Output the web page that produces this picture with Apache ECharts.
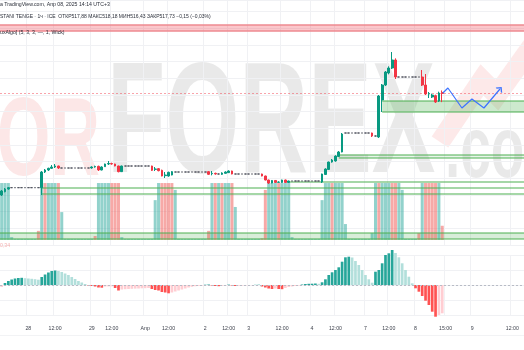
<!DOCTYPE html>
<html>
<head>
<meta charset="utf-8">
<script src="https://cdn.jsdelivr.net/npm/echarts@6/dist/echarts.min.js"></script>
<style>
  html, body { margin: 0; padding: 0; background: #ffffff; }
  #chart { width: 524px; height: 350px; }
</style>
</head>
<body>
<div id="chart"></div>
<script>
// USD/KZT, 1h bars as [open, close, low, high]; a lone number is an hour with no trades (o=c=l=h)
const candles = [
  [502.50,503.10,502.35,503.25],[503.00,503.40,502.90,503.55],[503.40,503.60,503.30,503.70],
  503.60,503.60,503.60,503.60,503.60,503.60,503.60,503.60,503.60,
  [503.60,505.95,502.50,506.10],[505.95,506.25,505.80,506.40],[506.25,506.50,506.10,506.60],
  [506.50,506.70,506.40,507.00],[506.70,506.85,506.55,507.15],[506.85,506.55,506.40,506.90],
  506.55,506.55,506.55,506.55,506.55,506.55,506.55,506.55,506.55,
  [506.55,506.70,506.45,506.80],[506.70,506.78,506.60,506.90],[506.80,506.25,506.10,506.90],
  [506.25,506.70,506.20,506.80],[506.75,507.15,506.70,507.20],[507.15,507.22,507.00,507.60],
  [507.22,507.15,507.05,507.35],[507.15,506.85,506.80,507.20],[506.85,506.00,505.90,506.90],
  [506.00,506.85,505.95,506.90],
  506.85,506.85,506.85,506.85,506.85,506.85,506.85,506.85,
  [506.85,506.20,506.10,506.90],[506.35,506.40,506.10,506.70],[506.45,506.15,506.05,506.55],
  [506.20,505.35,505.30,506.30],[505.40,505.50,505.05,505.95],[505.35,505.90,505.25,506.00],
  [505.50,506.00,505.45,506.10],
  505.95,505.95,505.95,505.95,505.95,505.95,505.95,505.95,505.95,505.95,
  [506.00,505.60,505.50,506.10],[505.70,505.75,505.45,506.10],[505.75,505.65,505.55,505.85],
  [505.65,505.65,505.60,505.70],[505.60,505.80,505.50,505.90],[505.75,505.95,505.70,506.05],
  [505.85,506.10,505.80,506.20],[506.10,505.65,505.60,506.15],
  505.65,505.65,505.65,505.65,505.65,505.65,505.65,505.65,
  [505.65,505.35,505.30,505.70],[505.35,504.75,504.70,505.40],[504.75,504.30,504.15,504.80],
  [504.30,504.68,504.25,504.75],[504.68,504.38,504.30,504.75],[504.40,504.45,504.35,504.55],
  [504.38,504.75,504.30,504.80],[504.75,504.38,504.35,504.80],[504.38,504.60,504.30,504.65],
  504.60,504.60,504.60,504.60,504.60,504.60,504.60,504.60,504.60,
  [504.45,505.65,504.30,505.70],[505.58,506.40,505.50,506.50],[506.33,507.45,506.25,507.50],
  [507.45,507.75,507.35,507.90],[507.60,508.35,507.50,508.45],[508.28,508.95,508.20,509.10],
  [508.95,511.65,508.90,511.80],
  511.80,511.80,511.80,511.80,511.80,511.80,511.80,511.80,
  [511.80,511.35,511.20,511.85],[511.35,511.35,511.30,511.40],[511.20,517.35,511.05,517.50],
  [516.75,519.00,514.95,519.15],[519.00,520.95,518.85,521.10],[520.80,521.55,520.60,521.80],
  [521.55,522.75,521.40,523.95],[522.75,520.20,519.90,523.00],
  520.20,520.20,520.20,520.20,520.20,520.20,520.20,
  [520.20,519.00,518.85,521.25],[519.00,517.65,517.50,520.65],[517.65,517.70,517.05,517.95],
  [517.20,517.50,517.05,517.70],[517.40,516.45,516.30,517.55],[516.60,517.80,516.45,518.00],
  [517.88,517.73,516.43,518.18]
];

// Lower histogram in the price pane (relative units) and its direction: 1 up, 0 down
const volume = [
  100,100,100,5,2,2,2,2,2,2,2,
  16,100,100,100,100,100,100,49,
  2,2,2,2,2,2,2,2,2,
  7,100,100,100,100,100,100,100,5,
  2,2,2,2,2,2,2,2,2,
  70,100,100,100,100,100,88,
  2,2,2,2,2,2,2,2,2,
  16,100,100,100,100,100,100,100,58,
  2,2,2,2,2,2,2,
  3,88,100,100,100,100,100,100,100,5,
  2,2,2,2,2,2,2,2,
  70,100,100,100,100,100,100,28,
  2,2,2,2,2,2,2,
  12,100,100,100,100,100,100,100,100,88,
  2,2,2,2,
  12,100,100,100,100,100,100,25
];
const volumeUp = [
  1,1,1,1,1,1,1,1,1,1,1,
  0,1,0,1,1,1,0,1,
  1,1,1,1,1,1,1,1,1,
  0,1,1,1,1,0,0,0,1,
  1,1,1,1,1,1,1,1,1,
  1,1,0,0,0,0,1,
  1,1,1,1,1,1,1,1,1,
  0,1,0,1,0,1,1,0,1,
  1,1,1,1,1,1,1,
  0,0,1,1,1,0,1,1,1,1,
  1,1,1,1,1,1,1,1,
  1,1,1,0,1,1,1,1,
  1,1,1,1,1,1,1,
  1,1,0,1,1,1,0,0,1,1,
  1,1,1,1,
  0,1,0,0,0,0,1,0
];

// Oscillator histogram in the lower pane
const oscillator = [
  -2,
  2,4,5.5,6.5,7,7.2,
  6.8,6.5,6.2,5.8,5.3,
  8,10.5,12.5,14,14.5,
  14,13,11.5,10,8,6,4,2.5,1,
  -0.5,-1,-1.5,-2.5,-2.7,-1.5,-1.4,-1.3,-3,
  -5.5,
  -4.5,-4.2,-4,-3.8,-3.6,-3.5,-3.3,-3.2,-3,
  -4,-5,-5.5,-7,-7.5,-8.3,
  -7.5,-6.5,-5.5,-4.5,-3.5,-2.5,-1.8,-1.2,-0.8,
  -0.5,0.3,0.5,-0.5,-1,-1.2,-0.8,-0.5,0.4,-0.5,-1,-0.8,-0.6,-0.5,-0.3,-0.2,0.2,0.3,
  -1.5,-2.5,-3.5,-4,-3.5,-4,-4.2,-3,-2,-1.5,-1,-0.5,
  0.5,1,1.2,1.3,1.5,1.2,
  2.7,5.7,10,12.7,15,17.7,23.3,27.7,28.3,
  27.5,24,20,15,10,5.7,2.3,
  13.3,15,21.7,30,31.7,35,
  32,27.7,21.7,15,8.3,1.7,
  -3.3,-6.7,-11,-15.7,-20,-26.7,-31.7,
  -30,-28.3
];

// Time scale: bar slots (history plus empty space on the right) and labelled slots
const slotCount = 157;
const tickSlots  = [8, 16, 27, 33, 43, 50, 61, 68, 74, 84, 93, 100, 109, 116, 124, 133, 141, 153];
const tickLabels = ['28', '12:00', '29', '12:00', 'Апр', '12:00', '2', '12:00', '3', '12:00',
                    '4', '12:00', '7', '12:00', '8', '15:00', '9', '12:00'];

// Support / resistance zones: first slot, upper and lower price
const zoneStart  = [12, 86, 101, 114, -0.5];
const zoneTop    = [503.55, 504.45, 508.50, 516.60, 496.80];
const zoneBottom = [502.65, 504.45, 508.05, 514.95, 495.90];
const resistance = { start: -0.5, top: 528.00, bottom: 527.10 };

// Forecast path drawn after the last bar: [slot, price]
const projection = [[132.2, 517.80], [133.7, 518.55], [137.9, 515.55], [140.9, 516.90], [144.5, 515.55], [149.3, 518.40]];

const lastBar = { open: 517.88, high: 518.18, low: 516.43, close: 517.73 };

// ---------------------------------------------------------------------------
const UP = '#089981', DOWN = '#F23645';
const GRID = '#f0f1f4';
const FONT = '"Liberation Sans", Arial, sans-serif';
const zoneFill = [0, 0, 0.12, 0.28, 0.22];

const slots = Array.from({ length: slotCount }, (_, i) => String(i));
const labelAt = {};
tickSlots.forEach((s, k) => { labelAt[s] = tickLabels[k]; });
const isTick = (idx) => labelAt[idx] !== undefined;

const ohlc = candles.map(d => Array.isArray(d) ? d : [d, d, d, d]);

const volumeData = volume.map((v, i) => ({
  value: v,
  itemStyle: { color: volumeUp[i] ? 'rgba(38,166,154,0.5)' : 'rgba(239,83,80,0.5)' }
}));

const oscData = oscillator.map((v, i) => {
  const prev = i > 0 ? oscillator[i - 1] : v;
  let c;
  if (v >= 0) c = v > prev ? '#26A69A' : '#B2DFDB';
  else c = v < prev ? '#FF5252' : '#FFCDD2';
  if (i === 0) c = v >= 0 ? '#B2DFDB' : '#FFCDD2';
  return { value: v, itemStyle: { color: c } };
});

const fmt = v => Math.abs(v).toFixed(2).replace('.', ',');
const change = lastBar.close - lastBar.open;
const changePct = change / lastBar.open * 100;
const sign = change < 0 ? '−' : '+';
const headerLine = 'STANI TENGE · 1ч · ICE  ОТКР' + fmt(lastBar.open) + ' МАКС' + fmt(lastBar.high) +
  ' МИН' + fmt(lastBar.low) + ' ЗАКР' + fmt(lastBar.close) + ' ' + sign + fmt(change) +
  ' (' + sign + fmt(changePct) + '%)';

const right = slotCount - 0.5;
const zoneSeries = [];
zoneStart.forEach((s, k) => {
  const top = zoneTop[k], bottom = zoneBottom[k];
  const lineStyle = { color: '#4caf50', width: 1.2 };
  const serTop = {
    type: 'line', xAxisIndex: 3, yAxisIndex: 0, symbol: 'none', silent: true, z: 3,
    data: [[s, top], [right, top]], lineStyle
  };
  if (zoneFill[k] > 0) {
    serTop.markArea = {
      silent: true,
      itemStyle: { color: 'rgba(76,175,80,' + zoneFill[k] + ')' },
      data: [[{ xAxis: s, yAxis: top }, { xAxis: right, yAxis: bottom }]]
    };
  }
  zoneSeries.push(serTop);
  if (bottom !== top) {
    zoneSeries.push({
      type: 'line', xAxisIndex: 3, yAxisIndex: 0, symbol: 'none', silent: true, z: 3,
      data: [[s, bottom], [right, bottom]], lineStyle
    });
  }
});
['top', 'bottom'].forEach((edge, k) => {
  const p = resistance[edge];
  const ser = {
    type: 'line', xAxisIndex: 3, yAxisIndex: 0, symbol: 'none', silent: true, z: 3,
    data: [[resistance.start, p], [right, p]],
    lineStyle: { color: '#ee8a90', width: 1.3 }
  };
  if (k === 0) {
    ser.markArea = {
      silent: true,
      itemStyle: { color: 'rgba(242,54,69,0.28)' },
      data: [[{ xAxis: resistance.start, yAxis: resistance.top }, { xAxis: right, yAxis: resistance.bottom }]]
    };
  }
  zoneSeries.push(ser);
});

const projectionData = projection.map(p => ({ value: p, symbol: 'none' }));

const chart = echarts.init(document.getElementById('chart'), null, { renderer: 'canvas' });

const hiddenCat = (gridIndex) => ({
  type: 'category', gridIndex, data: slots, boundaryGap: true,
  axisLine: { show: false }, axisTick: { show: false }, axisLabel: { show: false },
  splitLine: { show: false }
});

chart.setOption({
  animation: false,
  backgroundColor: '#ffffff',
  grid: [
    { left: 0, right: 0, top: 0, height: 245 },
    { left: 0, right: 0, top: 150, height: 90 },
    { left: 0, right: 0, top: 255, height: 60 }
  ],
  xAxis: [
    Object.assign(hiddenCat(0), {
      splitLine: { show: true, interval: isTick, lineStyle: { color: GRID, width: 1 } }
    }),
    hiddenCat(1),
    Object.assign(hiddenCat(2), {
      axisLabel: {
        show: true, interval: isTick, formatter: (v, idx) => labelAt[idx] || '',
        color: '#3b3f4a', fontSize: 5.2, fontFamily: FONT, margin: 11
      },
      splitLine: { show: true, interval: isTick, lineStyle: { color: GRID, width: 1 } }
    }),
    { type: 'value', gridIndex: 0, min: -0.5, max: right, show: false }
  ],
  yAxis: [
    {
      type: 'value', gridIndex: 0, min: 495, max: 531.75, interval: 2.5, position: 'right',
      axisLine: { show: false }, axisTick: { show: false }, axisLabel: { show: false },
      splitLine: { show: true, lineStyle: { color: GRID, width: 1 } }
    },
    { type: 'value', gridIndex: 1, min: 0, max: 158, show: false },
    {
      type: 'value', gridIndex: 2, min: -30, max: 30, interval: 15, position: 'right',
      axisLine: { show: false }, axisTick: { show: false }, axisLabel: { show: false },
      splitLine: { show: true, lineStyle: { color: GRID, width: 1 } }
    }
  ],
  graphic: [
    // background watermark
    { type: 'text', x: 100, y: 144.2, z: 0, scaleX: 0.615, silent: true,
      style: { text: 'FOR', font: 'bold 112px ' + FONT, fill: 'rgba(235,70,70,0.13)', align: 'right', verticalAlign: 'middle' } },
    { type: 'text', x: 107, y: 128.6, z: 0, scaleX: 0.607, silent: true,
      style: { text: 'FOREX', font: 'bold 157px ' + FONT, fill: 'rgba(0,0,0,0.085)', align: 'left', verticalAlign: 'middle' } },
    { type: 'text', x: 445, y: 152.5, z: 0, scaleX: 0.625, silent: true,
      style: { text: '.com', font: 'bold 88px ' + FONT, fill: 'rgba(0,0,0,0.085)', align: 'left', verticalAlign: 'middle' } },
    { type: 'polyline', z: 0, silent: true,
      shape: { points: [[440, 142], [482, 80], [497, 95], [532, 46]] },
      style: { stroke: 'rgba(235,70,70,0.12)', lineWidth: 20, fill: null, lineJoin: 'miter' } },
    // legend / header lines
    { type: 'text', x: 0, y: 5, z: 10, silent: true,
      style: { text: 'a TradingView.com, Апр 08, 2025 14:14 UTC+3', font: '5.2px ' + FONT, fill: '#2a2e39', verticalAlign: 'middle' } },
    { type: 'text', x: 0, y: 17, z: 10, silent: true,
      style: { text: headerLine, font: '5px ' + FONT, fill: '#2a2e39', verticalAlign: 'middle' } },
    { type: 'text', x: 0, y: 32.5, z: 10, silent: true,
      style: { text: 'uxAlgo] (5, 3, 3, —, 1, Wick)', font: '5.2px ' + FONT, fill: '#2a2e39', verticalAlign: 'middle' } },
    { type: 'text', x: 0, y: 246, z: 10, silent: true,
      style: { text: '0,34', font: '5.2px ' + FONT, fill: '#f6b0b0', verticalAlign: 'middle' } },
    { type: 'line', z: 0, silent: true, shape: { x1: 0, y1: 335.5, x2: 524, y2: 335.5 },
      style: { stroke: '#f2f3f5', lineWidth: 1 } }
  ],
  series: [
    {
      type: 'bar', xAxisIndex: 1, yAxisIndex: 1, data: volumeData, barWidth: '90%',
      silent: true, z: 1
    },
    ...zoneSeries,
    {
      type: 'candlestick', xAxisIndex: 0, yAxisIndex: 0, data: ohlc, barWidth: 2.2, z: 5,
      itemStyle: {
        color: UP, color0: DOWN, borderColor: UP, borderColor0: DOWN,
        borderColorDoji: '#50535e', borderWidth: 1
      },
      markLine: {
        silent: true, symbol: 'none', label: { show: false },
        lineStyle: { color: 'rgba(242,54,69,0.45)', type: [2, 2], width: 1 },
        data: [{ yAxis: lastBar.close }]
      }
    },
    {
      id: 'projection', type: 'line', xAxisIndex: 3, yAxisIndex: 0, z: 6,
      data: projectionData, symbol: 'none', silent: true,
      lineStyle: { color: '#3d74ff', width: 1.2 },
      itemStyle: { color: 'rgba(0,0,0,0)', borderColor: '#3d74ff', borderWidth: 1.2 }
    },
    {
      type: 'bar', xAxisIndex: 2, yAxisIndex: 2, data: oscData, barWidth: '80%',
      clip: false, silent: true, z: 2,
      markLine: {
        silent: true, symbol: 'none', label: { show: false },
        lineStyle: { color: '#b8bcc6', type: [2, 2], width: 1 },
        data: [{ yAxis: 0 }]
      }
    }
  ]
});

// open arrowhead at the end of the forecast path, turned along its last segment
const n = projection.length;
const a = chart.convertToPixel({ seriesId: 'projection' }, projection[n - 2]);
const b = chart.convertToPixel({ seriesId: 'projection' }, projection[n - 1]);
const heading = Math.atan2(b[0] - a[0], a[1] - b[1]) * 180 / Math.PI;
projectionData[n - 1] = {
  value: projection[n - 1],
  symbol: 'path://M0,10 L10,0 L20,10',
  symbolSize: [7, 3.5],
  symbolRotate: -heading
};
chart.setOption({ series: [{ id: 'projection', data: projectionData, showSymbol: true }] });
</script>
</body>
</html>
